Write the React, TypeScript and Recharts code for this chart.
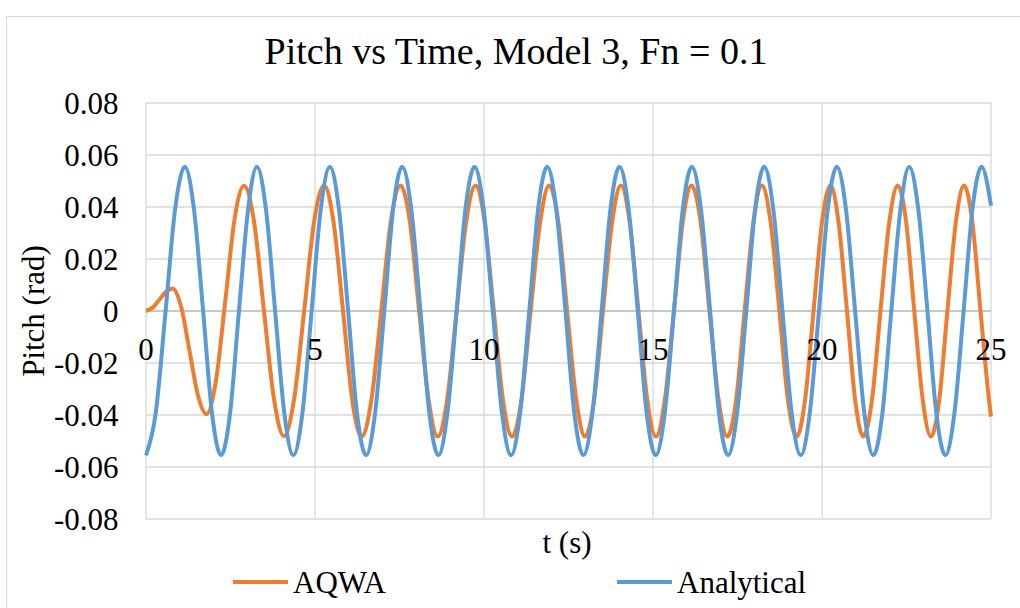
import { LineChart, Line, XAxis, YAxis, CartesianGrid, ReferenceLine, Legend } from 'recharts'

const FONT = '"Liberation Serif", "Times New Roman", serif'

const W = 1020
const H = 608
const PLOT_TOP = 103
const PLOT_H = 416
const PLOT_LEFT = 146
const PLOT_RIGHT = 29

const timeTicks = [0, 5, 10, 15, 20, 25]
const pitchTicks = [-0.08, -0.06, -0.04, -0.02, 0, 0.02, 0.04, 0.06, 0.08]

// Analytical solution, t (s) / pitch (rad)
const analyticalTime = [
  0, 0.29, 0.58, 0.86, 1.15,
  1.42, 1.69, 1.95, 2.22,
  2.49, 2.75, 3.02, 3.28,
  3.55, 3.82, 4.09, 4.36,
  4.63, 4.9, 5.17, 5.44,
  5.71, 5.98, 6.24, 6.51,
  6.78, 7.05, 7.31, 7.58,
  7.85, 8.12, 8.38, 8.65,
  8.92, 9.19, 9.45, 9.72,
  9.99, 10.26, 10.53, 10.8,
  11.07, 11.34, 11.6, 11.87,
  12.14, 12.41, 12.67, 12.94,
  13.21, 13.48, 13.74, 14.01,
  14.28, 14.55, 14.81, 15.08,
  15.35, 15.62, 15.88, 16.15,
  16.42, 16.69, 16.95, 17.22,
  17.49, 17.76, 18.02, 18.29,
  18.56, 18.83, 19.1, 19.37,
  19.64, 19.91, 20.17, 20.44,
  20.71, 20.98, 21.25, 21.52,
  21.79, 22.05, 22.32, 22.58,
  22.85, 23.12, 23.38, 23.65,
  23.92, 24.19, 24.45, 24.72,
  25,
]
const analyticalPitch = [
  -0.0555, -0.039, 0, 0.039, 0.0555,
  0.039, 0, -0.039, -0.0555,
  -0.039, 0, 0.039, 0.0555,
  0.039, 0, -0.039, -0.0555,
  -0.039, 0, 0.039, 0.0555,
  0.039, 0, -0.039, -0.0555,
  -0.039, 0, 0.039, 0.0555,
  0.039, 0, -0.039, -0.0555,
  -0.039, 0, 0.039, 0.0555,
  0.039, 0, -0.039, -0.0555,
  -0.039, 0, 0.039, 0.0555,
  0.039, 0, -0.039, -0.0555,
  -0.039, 0, 0.039, 0.0555,
  0.039, 0, -0.039, -0.0555,
  -0.039, 0, 0.039, 0.0555,
  0.039, 0, -0.039, -0.0555,
  -0.039, 0, 0.039, 0.0555,
  0.039, 0, -0.039, -0.0555,
  -0.039, 0, 0.039, 0.0555,
  0.039, 0, -0.039, -0.0555,
  -0.039, 0, 0.039, 0.0555,
  0.039, 0, -0.039, -0.0555,
  -0.039, 0, 0.039, 0.0555,
  0.0405,
]

// AQWA time-domain run, t (s) / pitch (rad)
const aqwaTime = [
  0, 0.2, 0.4, 0.59, 0.79,
  1.04, 1.29, 1.54, 1.79,
  2.07, 2.35, 2.62, 2.9,
  3.2, 3.49, 3.79, 4.08,
  4.38, 4.68, 4.97, 5.27,
  5.55, 5.83, 6.1, 6.38,
  6.67, 6.96, 7.24, 7.53,
  7.81, 8.08, 8.36, 8.63,
  8.91, 9.19, 9.47, 9.75,
  10.02, 10.29, 10.56, 10.83,
  11.11, 11.38, 11.66, 11.93,
  12.2, 12.46, 12.73, 12.99,
  13.26, 13.52, 13.79, 14.05,
  14.31, 14.57, 14.83, 15.09,
  15.35, 15.62, 15.88, 16.14,
  16.41, 16.67, 16.94, 17.2,
  17.46, 17.71, 17.97, 18.22,
  18.48, 18.74, 18.99, 19.25,
  19.5, 19.75, 20.0, 20.25,
  20.49, 20.74, 20.98, 21.22,
  21.48, 21.73, 21.99, 22.24,
  22.49, 22.73, 22.98, 23.22,
  23.47, 23.71, 23.96, 24.2,
  24.45, 24.69, 24.94, 25,
]
const aqwaPitch = [
  0, 0.0013, 0.0044, 0.0074, 0.0087,
  0.0016, -0.0155, -0.0326, -0.0397,
  -0.0268, 0.0043, 0.0353, 0.0482,
  0.0341, 0, -0.0341, -0.0482,
  -0.0341, 0, 0.0341, 0.0483,
  0.0341, 0, -0.0341, -0.0483,
  -0.0341, 0, 0.0341, 0.0483,
  0.0341, 0, -0.0341, -0.0483,
  -0.0341, 0, 0.0341, 0.0483,
  0.0341, 0, -0.0341, -0.0483,
  -0.0341, 0, 0.0341, 0.0483,
  0.0341, 0, -0.0341, -0.0483,
  -0.0341, 0, 0.0341, 0.0483,
  0.0341, 0, -0.0341, -0.0483,
  -0.0341, 0, 0.0341, 0.0483,
  0.0341, 0, -0.0341, -0.0483,
  -0.0341, 0, 0.0341, 0.0483,
  0.0341, 0, -0.0341, -0.0483,
  -0.0341, 0, 0.0341, 0.0483,
  0.0341, 0, -0.0341, -0.0483,
  -0.0341, 0, 0.0341, 0.0483,
  0.0341, 0, -0.0341, -0.0483,
  -0.0341, 0, 0.0341, 0.0483,
  0.0341, 0, -0.0341, -0.0406,
]

const aqwaData = aqwaTime.map((t, i) => ({ t, pitch: aqwaPitch[i] }))
const analyticalData = analyticalTime.map((t, i) => ({ t, pitch: analyticalPitch[i] }))

const fmtPitch = (v: number) => (Math.abs(v) < 1e-9 ? '0' : v.toFixed(2))

const textStyle = { fontFamily: FONT }

// x labels sit just under the zero line, like an axis crossing at 0
function TimeTick({ x, y, payload }: any) {
  return (
    <text x={x} y={y - PLOT_H / 2 + 49} textAnchor="middle" style={textStyle} fontSize={31} fill="#000">
      {payload.value}
    </text>
  )
}

function PitchTick({ x, y, payload }: any) {
  return (
    <text x={x} y={y} dy="0.34em" textAnchor="end" style={textStyle} fontSize={31} fill="#000">
      {fmtPitch(payload.value)}
    </text>
  )
}

const LEGEND_X = [233, 617]

function renderLegend({ payload }: any) {
  return (
    <svg width={W} height={48} style={{ display: 'block' }}>
      {(payload || []).map((p: any, i: number) => (
        <g key={p.value}>
          <line x1={LEGEND_X[i]} x2={LEGEND_X[i] + 55} y1={22} y2={22} stroke={p.color} strokeWidth={4} />
          <text x={LEGEND_X[i] + 60} y={33} style={textStyle} fontSize={31} fill="#000">
            {p.value}
          </text>
        </g>
      ))}
    </svg>
  )
}

export default function App() {
  return (
    <div style={{ position: 'absolute', left: 0, top: 0, width: W, height: H, background: '#fff', fontFamily: FONT }}>
      <LineChart
        width={W}
        height={H}
        margin={{ top: PLOT_TOP, right: PLOT_RIGHT, bottom: 0, left: 0 }}
      >
        <rect x={6.5} y={16.5} width={W + 20} height={H + 20} fill="none" stroke="#D9D9D9" strokeWidth={1} />
        <text x={516} y={64} textAnchor="middle" style={textStyle} fontSize={38} fill="#000">
          Pitch vs Time, Model 3, Fn = 0.1
        </text>
        <text
          transform={`translate(44, ${PLOT_TOP + PLOT_H / 2}) rotate(-90)`}
          textAnchor="middle"
          style={textStyle}
          fontSize={31}
          fill="#000"
        >
          Pitch (rad)
        </text>
        <text x={567} y={553} textAnchor="middle" style={textStyle} fontSize={31} fill="#000">
          t (s)
        </text>
        <CartesianGrid stroke="#D9D9D9" strokeWidth={1.3} />
        <XAxis
          dataKey="t"
          type="number"
          domain={[0, 25]}
          ticks={timeTicks}
          interval={0}
          height={H - PLOT_TOP - PLOT_H}
          axisLine={false}
          tickLine={false}
          tickSize={0}
          tickMargin={0}
          tick={<TimeTick />}
        />
        <YAxis
          type="number"
          domain={[-0.08, 0.08]}
          ticks={pitchTicks}
          interval={0}
          width={PLOT_LEFT}
          axisLine={false}
          tickLine={false}
          tickSize={0}
          tickMargin={27.5}
          tick={<PitchTick />}
        />
        <ReferenceLine y={0} stroke="#BFBFBF" strokeWidth={1.3} />
        <Line
          data={aqwaData}
          dataKey="pitch"
          name="AQWA"
          type="monotone"
          stroke="#ED7D31"
          strokeWidth={4}
          dot={false}
          activeDot={false}
          isAnimationActive={false}
        />
        <Line
          data={analyticalData}
          dataKey="pitch"
          name="Analytical"
          type="monotone"
          stroke="#5B9BD5"
          strokeWidth={4}
          dot={false}
          activeDot={false}
          isAnimationActive={false}
        />
        <Legend
          layout="horizontal"
          verticalAlign="middle"
          align="center"
          wrapperStyle={{ left: 0, top: 560, width: W, height: 48 }}
          content={renderLegend}
        />
      </LineChart>
    </div>
  )
}
